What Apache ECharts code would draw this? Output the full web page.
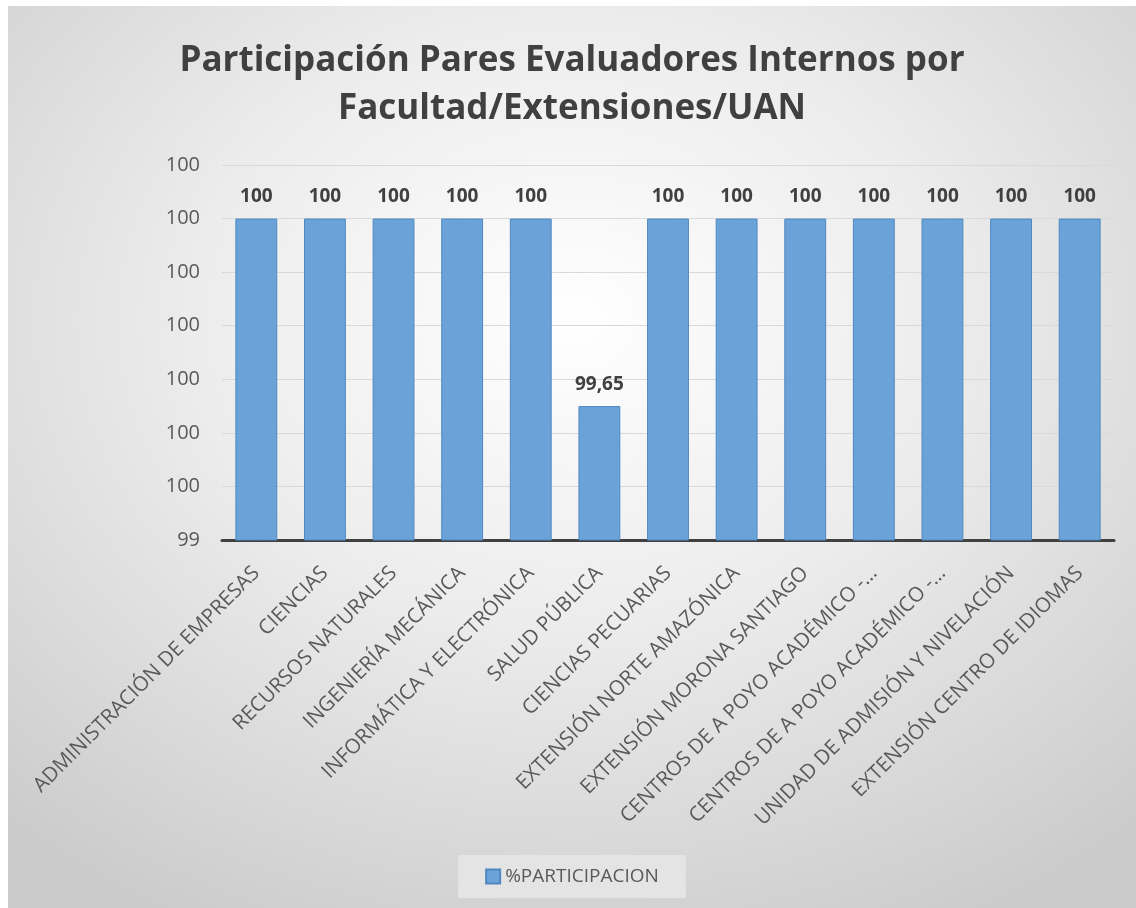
<!DOCTYPE html>
<html>
<head>
<meta charset="utf-8">
<script src="https://cdn.jsdelivr.net/npm/echarts@6/dist/echarts.min.js"></script>
<style>
  html, body { margin: 0; padding: 0; background: #fff; }
  #main {
    position: absolute; left: 8px; top: 6px; width: 1128px; height: 902px;
    background: radial-gradient(ellipse 75% 75% at 50% 35%, #ffffff 0%, #ececec 45%, #cbcbcb 100%);
  }
</style>
</head>
<body>
<div id="main"></div>
<script>
// categorias (facultades / extensiones)
var categorias = [
  'ADMINISTRACIÓN DE EMPRESAS',
  'CIENCIAS',
  'RECURSOS NATURALES',
  'INGENIERÍA MECÁNICA',
  'INFORMÁTICA Y ELECTRÓNICA',
  'SALUD PÚBLICA',
  'CIENCIAS PECUARIAS',
  'EXTENSIÓN NORTE AMAZÓNICA',
  'EXTENSIÓN MORONA SANTIAGO',
  'CENTROS DE A POYO ACADÉMICO -…',
  'CENTROS DE A POYO ACADÉMICO -…',
  'UNIDAD DE ADMISIÓN Y NIVELACIÓN',
  'EXTENSIÓN CENTRO DE IDIOMAS'
];
var participacion = [100, 100, 100, 100, 100, 99.65, 100, 100, 100, 100, 100, 100, 100];
var ejeMin = 99.4;
var ejeMax = 100.1;
var ejeIntervalo = 0.1;

var chart = echarts.init(document.getElementById('main'));
chart.setOption({
  backgroundColor: 'transparent',
  animation: false,
  title: {
    text: 'Participación Pares Evaluadores Internos por\nFacultad/Extensiones/UAN',
    left: 'center',
    top: 26,
    textStyle: {
      fontFamily: 'Open Sans',
      fontWeight: 'bold',
      fontSize: 35,
      lineHeight: 48,
      color: '#404040'
    }
  },
  legend: {
    bottom: 10,
    left: 'center',
    itemWidth: 14,
    itemHeight: 14,
    itemGap: 6,
    padding: [12, 27],
    backgroundColor: '#e4e4e4',
    textStyle: { fontFamily: 'Open Sans', fontSize: 19, color: '#595959' },
    data: [{ name: '%PARTICIPACION', icon: 'rect' }]
  },
  grid: { left: 214, right: 22, top: 159, bottom: 368 },
  xAxis: {
    type: 'category',
    data: categorias,
    axisLine: { lineStyle: { color: '#404040', width: 3 } },
    axisTick: { show: false },
    axisLabel: {
      interval: 0,
      rotate: 45,
      margin: 30,
      fontFamily: 'Open Sans',
      fontSize: 20.5,
      color: '#595959'
    }
  },
  yAxis: {
    type: 'value',
    min: ejeMin,
    max: ejeMax,
    interval: ejeIntervalo,
    axisLine: { show: false },
    axisTick: { show: false },
    splitLine: { lineStyle: { color: '#d9d9d9', width: 1 } },
    axisLabel: {
      margin: 22,
      fontFamily: 'Open Sans',
      fontSize: 20,
      color: '#595959',
      formatter: function (v) { return Math.round(v).toString(); }
    }
  },
  series: [{
    name: '%PARTICIPACION',
    type: 'bar',
    data: participacion,
    barWidth: '61%',
    itemStyle: { color: '#6ba3d9', borderColor: '#4f88c0', borderWidth: 1 },
    label: {
      show: true,
      position: 'top',
      distance: 12,
      fontFamily: 'Open Sans',
      fontWeight: 'bold',
      fontSize: 19,
      color: '#404040',
      formatter: function (p) { return String(p.value).replace('.', ','); }
    }
  }]
});
</script>
</body>
</html>
